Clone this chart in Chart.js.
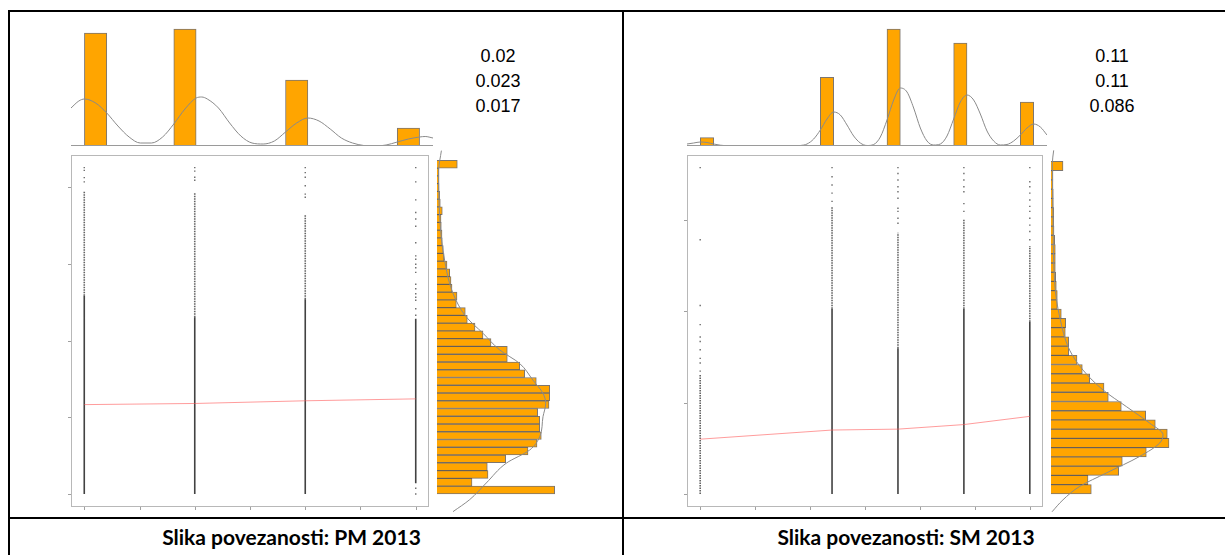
<!DOCTYPE html>
<html>
<head>
<meta charset="utf-8">
<script src="https://cdn.jsdelivr.net/npm/chart.js@4.4.0/dist/chart.umd.min.js"></script>
<style>
body { margin: 0; background: #fff; }
#stranica { position: relative; width: 1225px; height: 555px; overflow: hidden; background: #fff; }
.crta { position: absolute; background: #000; }
canvas { position: absolute; }
.brojevi { position: absolute; width: 80px; text-align: center; font: 18px 'Liberation Sans', Arial, sans-serif; line-height: 25px; color: #000; }
.naslov { position: absolute; top: 522px; height: 30px; text-align: center; font: bold 21px Lato, sans-serif; line-height: 30px; color: #000; }
</style>
</head>
<body>
<div id="stranica">
    <div class="crta" style="left:8px;top:10px;width:1217px;height:2px"></div>
    <div class="crta" style="left:8px;top:10px;width:2px;height:545px"></div>
    <div class="crta" style="left:622px;top:10px;width:2px;height:545px"></div>
    <div class="crta" style="left:8px;top:517px;width:1217px;height:2px"></div>

    <canvas id="pmGore" width="362" height="130" style="left:71px;top:16px"></canvas>
    <canvas id="pmTocke" width="368" height="361" style="left:65px;top:151px"></canvas>
    <canvas id="pmDesno" width="125" height="370" style="left:437px;top:146px"></canvas>
    <div class="brojevi" style="left:458px;top:44px">0.02<br>0.023<br>0.017</div>

    <canvas id="smGore" width="360" height="130" style="left:687px;top:16px"></canvas>
    <canvas id="smTocke" width="366" height="361" style="left:681px;top:151px"></canvas>
    <canvas id="smDesno" width="125" height="370" style="left:1051px;top:146px"></canvas>
    <div class="brojevi" style="left:1072px;top:44px">0.11<br>0.11<br>0.086</div>

    <div class="naslov" style="left:10px;width:563px">Slika povezanosti: PM 2013</div>
    <div class="naslov" style="left:624px;width:564px">Slika povezanosti: SM 2013</div>
</div>

<script>
// ---------- PM 2013 ----------
const pmKategorije = [1, 2, 3, 4];
const pmGustoOd = [0, 0, 0, 2.8];
const pmGustoDo = [51.7, 46.1, 50.8, 45.7];
const pmRijetkoOd = [51.7, 46.1, 50.8, null];
const pmRijetkoDo = [78.8, 78.7, 72.7, null];
const pmTockeX = [1, 1, 1, 1, 2, 2, 2, 2, 3, 3, 3, 3, 3, 3,
    4, 4, 4, 4, 4, 4, 4, 4, 4, 4, 4, 4, 4, 4, 4, 4, 4, 4, 4, 4, 4];
const pmTockeY = [81.4, 82.5, 84.4, 85.1, 81.8, 82.6, 84.2, 85.1, 77.4, 78.2, 80.4, 82.6, 83.8, 85.1,
    0, 1.5, 46.6, 48.3, 50.5, 51.3, 52.2, 53.5, 54.7, 57.8, 59.0, 59.9, 61.2, 62.1, 65.5, 69.8, 71.7, 73.4, 76.7, 81.4, 85.1];
const pmTrend = [23.3, 23.6, 24.3, 24.8];
const pmXOznake = [1, 1.5, 2, 2.5, 3, 3.5, 4];
const pmYOznake = [0, 20, 40, 60, 80];

const pmGoreRazredi = [1.1, 1.3, 1.5, 1.7, 1.9, 2.1, 2.3, 2.5, 2.7, 2.9, 3.1, 3.3, 3.5, 3.7, 3.9];
const pmGoreFrekv = [113, 0, 0, 0, 117, 0, 0, 0, 0, 66, 0, 0, 0, 0, 18];
const pmGustocaGoreX = [0.88, 0.95, 1.0, 1.1, 1.2, 1.3, 1.4, 1.5, 1.6, 1.7, 1.8, 1.9, 2.0, 2.05, 2.1, 2.2, 2.3, 2.4, 2.5,
    2.6, 2.7, 2.8, 2.9, 3.0, 3.1, 3.2, 3.3, 3.4, 3.5, 3.6, 3.7, 3.8, 3.9, 4.0, 4.05, 4.12];
const pmGustocaGoreY = [38, 45, 47, 43, 33, 20, 9, 3, 3, 9, 22, 37, 48, 49, 47, 38, 23, 10, 3,
    2, 5, 14, 23, 28, 25, 17, 8, 3, 0.5, 0, 1, 4, 7, 9, 9.5, 8];

// razredi desnog histograma, odozdo prema gore (sirina 2)
const pmDesnoFrekv = [117.7, 35, 51, 50.3, 68.7, 91, 100, 104.3, 102.7, 102.7, 100.7, 112, 112.7, 112.7, 99.3,
    87.7, 82.7, 70.3, 70.3, 54, 46, 38, 30.3, 28.3, 19.3, 20, 15, 14, 12.7, 10, 7, 6.3, 5.3, 5, 4.3, 4,
    5.3, 3.3, 2.7, 2, 1.7, 1.7, 20.3];
const pmGustocaDesnoV = [-4.6, -1.5, 2.8, 7.9, 11.3, 14.7, 19.9, 23.3, 25.9, 29.3, 33.6, 37.1, 41.4, 45.6, 51.7, 62.8, 71.4, 83.4, 88.5];
const pmGustocaDesnoD = [16, 32.7, 49.3, 69.3, 92.7, 102.7, 106, 108.7, 106, 96, 82.7, 62.7, 46, 29.3, 16, 6, 2.7, 1.7, 4.4];

// ---------- SM 2013 ----------
const smKategorije = [1, 3, 4, 5, 6];
const smGustoOd = [null, 0, 0, 0, 0];
const smGustoDo = [null, 40.6, 31.9, 40.6, 37.7];
const smRijetkoOd = [0, 40.6, 31.9, 40.6, 37.7];
const smRijetkoDo = [26.1, 62.9, 57.2, 60.1, 54.3];
const smTockeX = [1, 1, 1, 1, 1, 1, 1, 1, 1, 1, 3, 3, 3, 3, 3, 4, 4, 4, 4, 4, 4, 4, 4, 4, 4,
    5, 5, 5, 5, 5, 5, 5, 6, 6, 6, 6, 6, 6, 6, 6, 6, 6, 6];
const smTockeY = [26.9, 28.7, 29.7, 31.6, 33.4, 34.4, 37.1, 41.3, 55.7, 71.5, 64.1, 65.9, 67.7, 69.5, 71.5,
    59.3, 60.4, 61.9, 62.6, 64.8, 66.2, 67.3, 68.8, 70.2, 71.5,
    61.9, 63.6, 66.2, 67.3, 68.8, 70.2, 71.5,
    55.7, 57.5, 58.9, 60.4, 61.9, 63, 64.4, 65.9, 67.3, 68.4, 71.5];
const smTrend = [12.0, 14.0, 14.2, 15.2, 17.0];
const smXOznake = [1, 1.833, 2.667, 3.5, 4.333, 5.167, 6];
const smYOznake = [0, 20, 40, 60];

const smGoreRazredi = [1.1, 1.3, 1.5, 1.7, 1.9, 2.1, 2.3, 2.5, 2.7, 2.9, 3.1, 3.3, 3.5, 3.7, 3.9,
    4.1, 4.3, 4.5, 4.7, 4.9, 5.1, 5.3, 5.5, 5.7, 5.9];
const smGoreFrekv = [8.3, 0, 0, 0, 0, 0, 0, 0, 0, 68.7, 0, 0, 0, 0, 117, 0, 0, 0, 0, 103, 0, 0, 0, 0, 44];
const smGustocaGoreX = [0.8, 0.9, 1.0, 1.1, 1.2, 1.3, 1.4, 1.5, 2.4, 2.5, 2.6, 2.7, 2.8, 2.9, 3.0, 3.1, 3.2, 3.3, 3.4,
    3.5, 3.6, 3.7, 3.8, 3.9, 4.0, 4.1, 4.2, 4.3, 4.4, 4.5, 4.6, 4.7, 4.8, 4.9, 5.0, 5.1, 5.2, 5.3, 5.4,
    5.5, 5.6, 5.7, 5.8, 5.9, 6.0, 6.1, 6.2];
const smGustocaGoreY = [2, 3, 4, 3.5, 2, 0.8, 0.2, 0, 0, 0.5, 2, 7, 16, 27, 34, 31, 21, 10, 3,
    0.5, 1.5, 9, 26, 46, 58, 54, 38, 18, 5, 1, 2, 10, 27, 44, 51, 46, 32, 15, 5,
    1, 1.5, 5, 11, 18, 22, 19, 11];

const smDesnoFrekv = [40.3, 37, 67.7, 71.3, 95.3, 118, 116.3, 104.3, 94.7, 70.3, 57.3, 53, 38.7, 31.3, 26,
    17.7, 17.7, 14.3, 14.7, 10.3, 6.3, 6.3, 5.3, 4.7, 4.3, 4.3, 4.3, 3.7, 3, 2.7, 2.7, 2.3, 2.3, 2, 2, 12];
const smGustocaDesnoV = [-3.9, -1.3, 1.6, 4.5, 8.1, 11, 12.8, 15.3, 18.9, 22.5, 26.8, 31.1, 38.3, 45.6, 60, 71.5, 74.4];
const smGustocaDesnoD = [1, 12, 28.7, 55.3, 88.7, 108.7, 112, 98.7, 75.3, 52, 32, 18.7, 8.7, 3.7, 2, 1.3, 2.7];

// boje
const narancasta = '#FFA500';
const rubStupca = 'rgba(70,60,50,0.7)';
const sivaKrivulja = '#8a8a8a';

// okvir, crtice i osnovica
const okvirPlugin = {
    id: 'okvir',
    afterDatasetsDraw(chart, args, o) {
        const ctx = chart.ctx;
        const a = chart.chartArea;
        ctx.save();
        ctx.lineWidth = 1;
        if (o.okvir) {
            ctx.strokeStyle = '#b8b8b8';
            ctx.strokeRect(a.left + 0.5, a.top + 0.5, a.width - 1, a.height - 1);
            ctx.strokeStyle = '#a0a0a0';
            ctx.beginPath();
            (o.xOznake || []).forEach(function (v) {
                const p = Math.round(chart.scales.x.getPixelForValue(v)) + 0.5;
                ctx.moveTo(p, a.bottom);
                ctx.lineTo(p, a.bottom + 3);
            });
            (o.yOznake || []).forEach(function (v) {
                const p = Math.round(chart.scales.y.getPixelForValue(v)) + 0.5;
                ctx.moveTo(a.left, p);
                ctx.lineTo(a.left - 3, p);
            });
            ctx.stroke();
        }
        if (o.osnovica) {
            ctx.strokeStyle = '#9a9a9a';
            ctx.beginPath();
            ctx.moveTo(a.left, a.bottom - 0.5);
            ctx.lineTo(a.right, a.bottom - 0.5);
            ctx.stroke();
        }
        ctx.restore();
    }
};

const osnovneOpcije = {
    responsive: false,
    animation: false,
    devicePixelRatio: 1,
    events: [],
    layout: { padding: 0 }
};

function gornjiHistogram(id, razredi, frekv, gx, gy, xMin, xMax) {
    new Chart(document.getElementById(id), {
        type: 'bar',
        data: {
            datasets: [
                {
                    type: 'line',
                    data: gx.map(function (x, i) { return { x: x, y: gy[i] }; }),
                    borderColor: sivaKrivulja,
                    borderWidth: 1,
                    pointRadius: 0,
                    cubicInterpolationMode: 'monotone'
                },
                {
                    data: razredi.map(function (x, i) { return { x: x, y: frekv[i] }; }),
                    backgroundColor: narancasta,
                    borderColor: rubStupca,
                    borderWidth: 1,
                    barPercentage: 1,
                    categoryPercentage: 1
                }
            ]
        },
        options: Object.assign({}, osnovneOpcije, {
            scales: {
                x: { type: 'linear', display: false, min: xMin, max: xMax, offset: false },
                y: { type: 'linear', display: false, min: 0, max: 130 }
            },
            plugins: { legend: { display: false }, tooltip: { enabled: false }, okvir: { osnovica: true } }
        }),
        plugins: [okvirPlugin]
    });
}

function desniHistogram(id, frekv, gv, gd, yMin, yMax) {
    new Chart(document.getElementById(id), {
        type: 'bar',
        data: {
            datasets: [
                {
                    type: 'line',
                    data: gv.map(function (v, i) { return { x: gd[i], y: v }; }),
                    borderColor: sivaKrivulja,
                    borderWidth: 1,
                    pointRadius: 0,
                    cubicInterpolationMode: 'monotone'
                },
                {
                    data: frekv.map(function (f, i) { return { x: f, y: 1 + 2 * i }; }),
                    backgroundColor: narancasta,
                    borderColor: rubStupca,
                    borderWidth: 1,
                    barPercentage: 1,
                    categoryPercentage: 1
                }
            ]
        },
        options: Object.assign({}, osnovneOpcije, {
            indexAxis: 'y',
            scales: {
                x: { type: 'linear', display: false, min: 0, max: 125 },
                y: { type: 'linear', display: false, min: yMin, max: yMax, offset: false }
            },
            plugins: { legend: { display: false }, tooltip: { enabled: false } }
        })
    });
}

function odsjecci(kat, od, doo) {
    const d = [];
    kat.forEach(function (x, i) {
        if (od[i] === null) return;
        d.push({ x: x, y: od[i] }, { x: x, y: doo[i] }, { x: x, y: null });
    });
    return d;
}

function dijagramTocaka(id, p) {
    new Chart(document.getElementById(id), {
        type: 'scatter',
        data: {
            datasets: [
                {
                    data: p.kat.map(function (x, i) { return { x: x, y: p.trend[i] }; }),
                    showLine: true,
                    borderColor: 'rgba(255,90,90,0.6)',
                    borderWidth: 1,
                    pointRadius: 0
                },
                {
                    data: odsjecci(p.kat, p.gOd, p.gDo),
                    showLine: true,
                    spanGaps: false,
                    borderColor: 'rgba(45,45,45,0.9)',
                    borderWidth: 1.6,
                    pointRadius: 0
                },
                {
                    data: odsjecci(p.kat, p.rOd, p.rDo),
                    showLine: true,
                    spanGaps: false,
                    borderColor: 'rgba(60,60,60,0.8)',
                    borderWidth: 1.6,
                    borderDash: [1.5, 1],
                    pointRadius: 0
                },
                {
                    data: p.tx.map(function (x, i) { return { x: x, y: p.ty[i] }; }),
                    pointStyle: 'rect',
                    pointRadius: 1,
                    backgroundColor: 'rgba(70,70,70,0.8)',
                    borderWidth: 0
                }
            ]
        },
        options: Object.assign({}, osnovneOpcije, {
            layout: { padding: { left: 6, bottom: 5 } },
            scales: {
                x: { type: 'linear', display: false, min: p.xMin, max: p.xMax },
                y: { type: 'linear', display: false, min: p.yMin, max: p.yMax }
            },
            plugins: {
                legend: { display: false },
                tooltip: { enabled: false },
                okvir: { okvir: true, xOznake: p.xOzn, yOznake: p.yOzn }
            }
        }),
        plugins: [okvirPlugin]
    });
}

// PM: y od -3.4 do 88.4 na 356 px
const pmYMin = -3.4, pmYMax = 88.4;
const pmK = 356 / (pmYMax - pmYMin);
gornjiHistogram('pmGore', pmGoreRazredi, pmGoreFrekv, pmGustocaGoreX, pmGustocaGoreY, 0.88, 4.12);
dijagramTocaka('pmTocke', {
    kat: pmKategorije, gOd: pmGustoOd, gDo: pmGustoDo, rOd: pmRijetkoOd, rDo: pmRijetkoDo,
    tx: pmTockeX, ty: pmTockeY, trend: pmTrend,
    xMin: 0.88, xMax: 4.12, yMin: pmYMin, yMax: pmYMax, xOzn: pmXOznake, yOzn: pmYOznake
});
desniHistogram('pmDesno', pmDesnoFrekv, pmGustocaDesnoV, pmGustocaDesnoD, pmYMin - 9 / pmK, pmYMax + 5 / pmK);

// SM: y od -2.86 do 74.26 na 356 px
const smYMin = -2.86, smYMax = 74.26;
const smK = 356 / (smYMax - smYMin);
gornjiHistogram('smGore', smGoreRazredi, smGoreFrekv, smGustocaGoreX, smGustocaGoreY, 0.8, 6.2);
dijagramTocaka('smTocke', {
    kat: smKategorije, gOd: smGustoOd, gDo: smGustoDo, rOd: smRijetkoOd, rDo: smRijetkoDo,
    tx: smTockeX, ty: smTockeY, trend: smTrend,
    xMin: 0.8, xMax: 6.2, yMin: smYMin, yMax: smYMax, xOzn: smXOznake, yOzn: smYOznake
});
desniHistogram('smDesno', smDesnoFrekv, smGustocaDesnoV, smGustocaDesnoD, smYMin - 9 / smK, smYMax + 5 / smK);
</script>
</body>
</html>
